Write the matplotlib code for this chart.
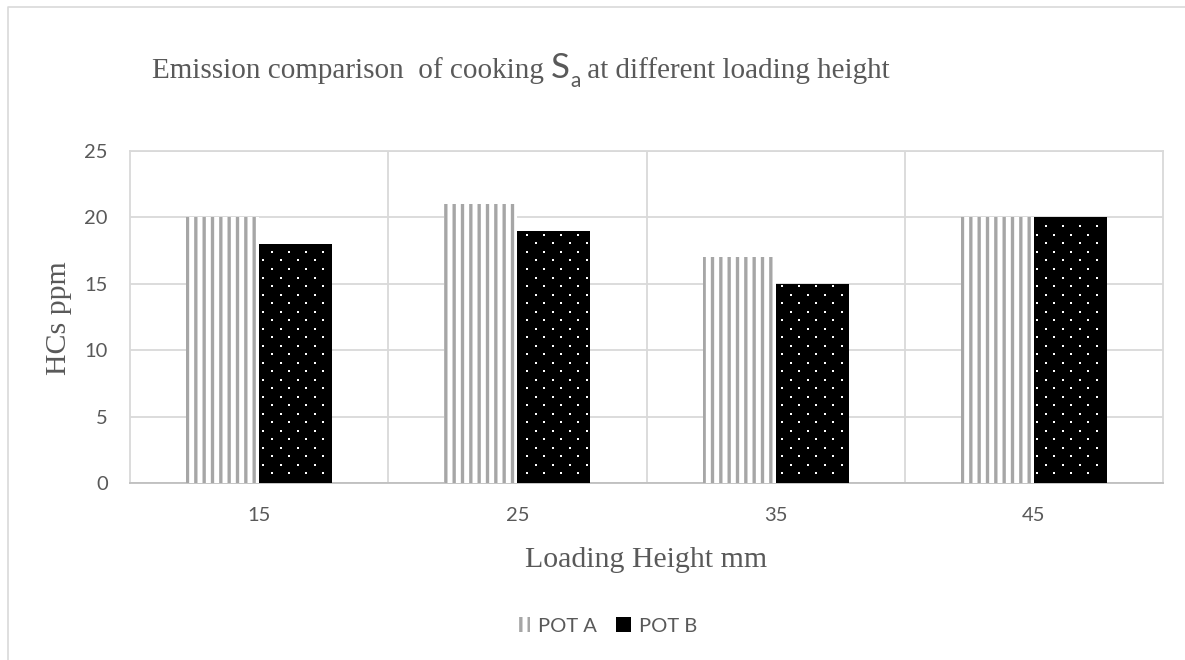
import matplotlib
matplotlib.use('Agg')
import matplotlib.pyplot as plt
from matplotlib.lines import Line2D
import numpy as np

# dados do gráfico
alturas = ['15', '25', '35', '45']
pot_a = [20, 21, 17, 20]
pot_b = [18, 19, 15, 20]
marcas_y = [0, 5, 10, 15, 20, 25]

cinza_texto = '#595959'
cinza_grade = '#d9d9d9'
serifa = ['Liberation Serif', 'DejaVu Serif']
sem_serifa = ['Lato', 'DejaVu Sans']

plt.rcParams['hatch.linewidth'] = 2.4

W, H = 1185, 660
fig = plt.figure(figsize=(W / 100, H / 100), dpi=100)

# moldura do gráfico (só esquerda e topo aparecem)
fig.add_artist(Line2D([8 / W, 8 / W, 1.0], [0.0, 1 - 7 / H, 1 - 7 / H],
                      transform=fig.transFigure, color=cinza_grade, lw=1.2))

ax = fig.add_axes([130 / W, 1 - 483 / H, (1163 - 130) / W, (483 - 151) / H])

x = np.arange(len(alturas))
largura = 0.283

barras_a = ax.bar(x - largura / 2, pot_a, largura, color='white', edgecolor='#a6a6a6',
                  hatch='||', linewidth=0, label='POT A', zorder=3)
barras_b = ax.bar(x + largura / 2, pot_b, largura, color='black',
                  linewidth=0, label='POT B', zorder=3)

ax.set_xlim(-0.5, len(alturas) - 0.5)
ax.set_ylim(0, 25)
ax.set_yticks(marcas_y)
ax.set_xticks(x)
ax.set_xticklabels(alturas)
ax.set_xticks(x[:-1] + 0.5, minor=True)

ax.grid(axis='y', which='major', color=cinza_grade, lw=1.3, zorder=0)
ax.grid(axis='x', which='minor', color=cinza_grade, lw=1.3, zorder=0)
ax.set_axisbelow(True)
for lado in ['left', 'right', 'top']:
    ax.spines[lado].set_color(cinza_grade)
    ax.spines[lado].set_linewidth(1.3)
ax.spines['bottom'].set_color('#bfbfbf')
ax.spines['bottom'].set_linewidth(1.3)

ax.tick_params(axis='both', which='both', length=0, labelcolor=cinza_texto, labelsize=14.5)
ax.tick_params(axis='y', pad=16)
ax.tick_params(axis='x', pad=17)
for rotulo in ax.get_xticklabels() + ax.get_yticklabels():
    rotulo.set_fontfamily(sem_serifa)

fig.text(59 / W, 1 - 318 / H, 'HCs ppm', rotation=90, ha='center', va='center',
         fontsize=21.5, color=cinza_texto, family=serifa)
fig.text(646 / W, 1 - 560 / H, 'Loading Height mm', ha='center', va='center',
         fontsize=21.5, color=cinza_texto, family=serifa)

leg = fig.legend(handles=[barras_a, barras_b], loc='center', bbox_to_anchor=(606 / W, 1 - 626 / H),
                 ncol=2, frameon=False, labelcolor=cinza_texto,
                 prop={'family': sem_serifa, 'size': 14.5}, handlelength=0.75, handleheight=0.75,
                 handletextpad=0.4, columnspacing=0.95)

fig.canvas.draw()
renderer = fig.canvas.get_renderer()

# pontos brancos dentro das barras pretas (textura de pontos desencontrados)
passo_x, passo_y = 17.0, 8.5
trans = ax.transData
inv = trans.inverted()
for barra in barras_b:
    px0, py0 = trans.transform((barra.get_x(), 0))
    px1, py1 = trans.transform((barra.get_x() + barra.get_width(), barra.get_height()))
    pontos = []
    for k in range(int(np.ceil((py0 + 2) / passo_y)), int(np.floor((py1 - 2) / passo_y)) + 1):
        desloc = (k % 2) * passo_x / 2
        i0 = int(np.ceil((px0 + 2 - desloc) / passo_x))
        i1 = int(np.floor((px1 - 2 - desloc) / passo_x))
        for i in range(i0, i1 + 1):
            pontos.append((i * passo_x + desloc, k * passo_y))
    dados = inv.transform(np.array(pontos))
    ax.scatter(dados[:, 0], dados[:, 1], marker='s', s=1.6, color='white',
               linewidths=0, zorder=4)

# dois pontinhos no marcador da legenda do POT B
caixa_b = leg.get_patches()[1].get_window_extent(renderer)
for fx, fy in [(0.75, 0.72), (0.25, 0.2)]:
    fig.add_artist(Line2D([(caixa_b.x0 + fx * caixa_b.width) / W],
                          [(caixa_b.y0 + fy * caixa_b.height) / H],
                          transform=fig.transFigure, marker='s', markersize=1.3,
                          markeredgewidth=0, color='white', linestyle='none', zorder=5))

# título com S subscrito a, montado por partes
partes = [
    ('Emission comparison  of cooking ', serifa, 21, 0),
    ('S', sem_serifa, 25, 0),
    ('a', sem_serifa, 15, -9),
    (' at different loading height', serifa, 21, 0),
]
pos_x = 152
base_y = H - 78
for texto, familia, tamanho, desloc in partes:
    t = fig.text(pos_x / W, (base_y + desloc) / H, texto, family=familia, fontsize=tamanho,
                 color=cinza_texto, ha='left', va='baseline')
    pos_x = t.get_window_extent(renderer).x1

fig.savefig('out.png', dpi=100)
